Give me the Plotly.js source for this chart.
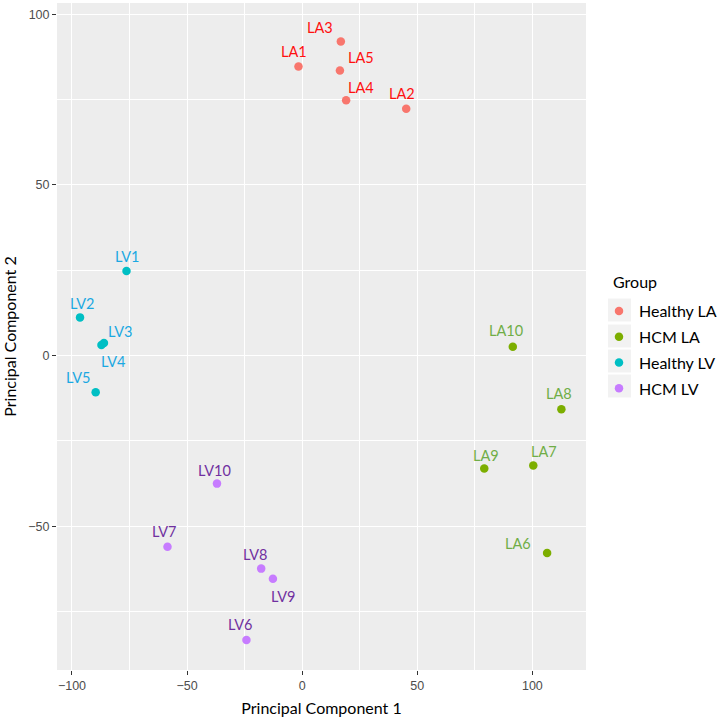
<!DOCTYPE html>
<html>
<head>
<meta charset="utf-8">
<script src="https://cdn.plot.ly/plotly-3.0.1.min.js"></script>
<style>html,body{margin:0;padding:0;background:#fff;}#chart{width:718px;height:719px;}</style>
</head>
<body>
<div id="chart"></div>
<script>
// ---- data ----
const groups = ["Healthy LA", "HCM LA", "Healthy LV", "HCM LV"];
const legendTitle = "Group";

const healthyLA_labels = ["LA1", "LA2", "LA3", "LA4", "LA5"];
const healthyLA_pc1 = [-1.6, 45.2, 16.8, 19.1, 16.4];
const healthyLA_pc2 = [84.7, 72.3, 92.0, 74.8, 83.5];

const hcmLA_labels = ["LA6", "LA7", "LA8", "LA9", "LA10"];
const hcmLA_pc1 = [106.4, 100.4, 112.6, 79.1, 91.5];
const hcmLA_pc2 = [-57.8, -32.2, -15.7, -33.1, 2.6];

const healthyLV_labels = ["LV1", "LV2", "LV3", "LV4", "LV5"];
const healthyLV_pc1 = [-76.3, -96.5, -86.1, -87.2, -89.7];
const healthyLV_pc2 = [24.8, 11.2, 3.7, 3.1, -10.7];

const hcmLV_labels = ["LV6", "LV7", "LV8", "LV9", "LV10"];
const hcmLV_pc1 = [-24.2, -58.5, -17.8, -12.7, -37.0];
const hcmLV_pc2 = [-83.3, -56.0, -62.4, -65.4, -37.5];

const xTicks = [-100, -50, 0, 50, 100];
const yTicks = [-50, 0, 50, 100];

// ---- styles ----
const pointColors = ["#F8766D", "#7CAE00", "#00BFC4", "#C77CFF"];
const labelColors = ["#FF1010", "#70AD47", "#1AA8E2", "#7030A0"];
// label pixel offsets (dx right, dy down) from each point (ggrepel placement)
const labelOffsets = {
  LA1: [-4, -16], LA2: [-4, -16], LA3: [-21, -15], LA4: [15, -14], LA5: [21, -14],
  LA6: [-29, -10], LA7: [11, -15], LA8: [-2, -17], LA9: [2, -14], LA10: [-7, -17],
  LV1: [0, -15], LV2: [2, -15], LV3: [16, -12], LV4: [12, 15], LV5: [-18, -16],
  LV6: [-6, -16], LV7: [-4, -16], LV8: [-6, -15], LV9: [10, 17], LV10: [-2, -14]
};

const series = [
  [healthyLA_labels, healthyLA_pc1, healthyLA_pc2],
  [hcmLA_labels, hcmLA_pc1, hcmLA_pc2],
  [healthyLV_labels, healthyLV_pc1, healthyLV_pc2],
  [hcmLV_labels, hcmLV_pc1, hcmLV_pc2]
];

const W = 718, H = 719;
const M = {l: 57, r: 132, t: 3, b: 49};
const plotW = W - M.l - M.r, plotH = H - M.t - M.b;
const px2paperX = px => (px - M.l) / plotW;
const px2paperY = py => (H - M.b - py) / plotH;

const LABEL_FONT = "Lato, 'Open Sans', sans-serif";
const traces = [];
const annotations = [];
series.forEach((s, gi) => {
  const [labs, xs, ys] = s;
  traces.push({
    type: "scatter", mode: "markers", name: groups[gi], legendgroup: "g" + gi,
    x: xs, y: ys, text: labs,
    marker: {color: pointColors[gi], size: 8.5},
    hoverinfo: "text+x+y"
  });
  labs.forEach((lab, i) => {
    const off = labelOffsets[lab] || [0, -15];
    annotations.push({
      x: xs[i], y: ys[i], xref: "x", yref: "y", text: lab, showarrow: false,
      xshift: off[0], yshift: -off[1] - 1,
      font: {family: LABEL_FONT, size: 14.5, color: labelColors[gi]}
    });
  });
});

// legend title
annotations.push({
  xref: "paper", yref: "paper", x: px2paperX(611), y: px2paperY(281),
  xanchor: "left", yanchor: "middle", showarrow: false, text: legendTitle,
  font: {family: LABEL_FONT, size: 16, color: "#000"}
});

// gray legend key boxes (ggplot legend key background)
const keyCenters = [310, 336, 361, 386];
const shapes = keyCenters.map(cy => ({
  type: "rect", xref: "paper", yref: "paper", layer: "below",
  x0: px2paperX(608), x1: px2paperX(631),
  y0: px2paperY(cy + 11.5), y1: px2paperY(cy - 11.5),
  fillcolor: "#F2F2F2", line: {width: 0}
}));

const layout = {
  width: W, height: H,
  margin: {l: M.l, r: M.r, t: M.t, b: M.b, autoexpand: false},
  paper_bgcolor: "#ffffff",
  plot_bgcolor: "#EDEDED",
  showlegend: true,
  legend: {
    font: {family: LABEL_FONT, size: 16, color: "#000"},
    x: px2paperX(599), xanchor: "left", y: px2paperY(294), yanchor: "top",
    tracegroupgap: 2,
    bgcolor: "rgba(0,0,0,0)", itemclick: false
  },
  xaxis: {
    range: [-106.5, 123.3],
    tickvals: xTicks, ticktext: xTicks.map(v => v < 0 ? "\u2212" + Math.abs(v) : String(v)),
    showgrid: true, gridcolor: "#ffffff", gridwidth: 1.3,
    minor: {dtick: 25, tick0: 25, showgrid: true, gridcolor: "#ffffff", gridwidth: 0.6, ticks: ""},
    zeroline: false, showline: false,
    ticks: "outside", ticklen: 4, tickcolor: "#333333", tickwidth: 1,
    tickfont: {family: "'Liberation Sans', Arial, sans-serif", size: 12.5, color: "#4D4D4D"},
    title: {text: "Principal Component 1", font: {family: LABEL_FONT, size: 16, color: "#000"}, standoff: 10},
    automargin: false, fixedrange: true
  },
  yaxis: {
    range: [-92.1, 103.3],
    tickvals: yTicks, ticktext: yTicks.map(v => v < 0 ? "\u2212" + Math.abs(v) : String(v)),
    showgrid: true, gridcolor: "#ffffff", gridwidth: 1.3,
    minor: {dtick: 25, tick0: 25, showgrid: true, gridcolor: "#ffffff", gridwidth: 0.6, ticks: ""},
    zeroline: false, showline: false,
    ticks: "outside", ticklen: 4, tickcolor: "#333333", tickwidth: 1,
    tickfont: {family: "'Liberation Sans', Arial, sans-serif", size: 12.5, color: "#4D4D4D"},
    title: {text: "Principal Component 2", font: {family: LABEL_FONT, size: 16, color: "#000"}, standoff: 8},
    automargin: false, fixedrange: true
  },
  annotations: annotations,
  shapes: shapes
};

Plotly.newPlot("chart", traces, layout, {displayModeBar: false});
</script>
</body>
</html>
